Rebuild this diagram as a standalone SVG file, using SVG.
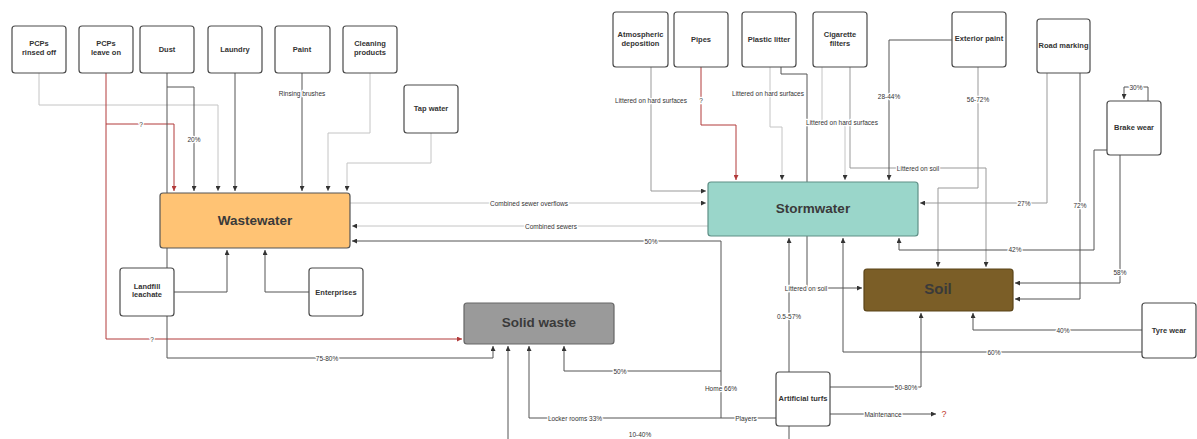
<svg xmlns="http://www.w3.org/2000/svg" width="1197" height="439" viewBox="0 0 1197 439">
<defs>
<marker id="a" viewBox="0 0 6 6" refX="6" refY="3" markerWidth="5" markerHeight="5" markerUnits="userSpaceOnUse" orient="auto"><path d="M0,0 L6,3 L0,6 z" fill="#333"/></marker>
<marker id="ar" viewBox="0 0 6 6" refX="6" refY="3" markerWidth="5" markerHeight="5" markerUnits="userSpaceOnUse" orient="auto"><path d="M0,0 L6,3 L0,6 z" fill="#b23a3a"/></marker>
<style>
.n rect{fill:#fff;stroke:#4a4a4a;stroke-width:1.2}
.t{font-family:"Liberation Sans",Arial,sans-serif;font-size:7.5px;font-weight:bold;fill:#333;text-anchor:middle;dominant-baseline:central}
.big{font-family:"Liberation Sans",Arial,sans-serif;font-size:13.5px;font-weight:bold;fill:#3a3a3a;text-anchor:middle;dominant-baseline:central}
.e{font-family:"Liberation Sans",Arial,sans-serif;font-size:6.5px;fill:#333;text-anchor:middle;dominant-baseline:central;paint-order:stroke;stroke:#fff;stroke-width:2.5px;stroke-linejoin:round}
.d{fill:none;stroke:#555;stroke-width:1;marker-end:url(#a)}
.l{fill:none;stroke:#c4c4c4;stroke-width:1;marker-end:url(#a)}
.m{fill:none;stroke:#999;stroke-width:1;marker-end:url(#a)}
.r{fill:none;stroke:#b23a3a;stroke-width:1;marker-end:url(#ar)}
.nm{marker-end:none}
</style>
</defs>
<rect width="1197" height="439" fill="#fff"/>
<g id="connectors">
<path class="l" d="M39,73 V105 H218 V191"/>
<path class="r" d="M106,73 V339 H462"/>
<path class="r" d="M106,124 H174 V191"/>
<path class="d nm" d="M167,73 V268"/>
<path class="d" d="M167,87 H194 V191"/>
<path class="d" d="M235,73 V191"/>
<path class="d" d="M302,73 V191"/>
<path class="l" d="M370,73 V133 H328 V191"/>
<path class="l" d="M431,133 V163 H347 V191"/>
<path class="d" d="M174,292 H227 V250"/>
<path class="d" d="M309,292 H265 V250"/>
<path class="d" d="M167,316 V358 H493 V346"/>
<path class="l" d="M350,203 H706"/>
<path class="l" d="M708,226 H352"/>
<path class="d" d="M721,418 V241 H352"/>
<path class="d" d="M721,371 H564 V346"/>
<path class="d" d="M776,418 H529 V346"/>
<path class="d" d="M789,426 V446 H508 V346"/>
<path class="d" d="M789,372 V238"/>
<path class="d" d="M830,387 H921 V313"/>
<path class="d" d="M830,414 H936"/>
<path class="m" d="M651,67 V191 H706"/>
<path class="r" d="M701,67 V125 H736 V180"/>
<path class="l" d="M770,67 V127 H782 V180"/>
<path class="d" d="M781,67 V74 H807 V288 H862"/>
<path class="l" d="M822,67 V122 H845 V180"/>
<path class="m" d="M850,67 V168 H986 V267"/>
<path class="d" d="M952,40 H889 V180"/>
<path class="m" d="M978,67 V188 H938 V267"/>
<path class="m" d="M1047,73 V203 H920"/>
<path class="d" d="M1080,73 V299 H1015"/>
<path class="d" d="M1148,101 V87 H1124 V99"/>
<path class="d" d="M1107,150 H1094 V250 H899 V238"/>
<path class="d" d="M1120,155 V283 H1015"/>
<path class="d" d="M1142,330 H973 V313"/>
<path class="d" d="M1142,352 H843 V238"/>
<text class="e" x="141" y="124">?</text>
<text class="e" x="152" y="339">?</text>
<text class="e" x="194" y="139">20%</text>
<text class="e" x="302" y="93">Rinsing brushes</text>
<text class="e" x="327" y="358">75-80%</text>
<text class="e" x="529" y="203">Combined sewer overflows</text>
<text class="e" x="551" y="226">Combined sewers</text>
<text class="e" x="651" y="241">50%</text>
<text class="e" x="620" y="371">50%</text>
<text class="e" x="721" y="388">Home 66%</text>
<text class="e" x="575" y="418">Locker rooms 33%</text>
<text class="e" x="746" y="418">Players</text>
<text class="e" x="640" y="434">10-40%</text>
<text class="e" x="789" y="316">0.5-57%</text>
<text class="e" x="906" y="387">50-80%</text>
<text class="e" x="883" y="414">Maintenance</text>
<text x="944" y="414" font-family="Liberation Sans,Arial,sans-serif" font-size="9" fill="#c0392b" text-anchor="middle" dominant-baseline="central">?</text>
<text class="e" x="651" y="100">Littered on hard surfaces</text>
<text class="e" x="701" y="100">?</text>
<text class="e" x="768" y="93">Littered on hard surfaces</text>
<text class="e" x="842" y="122">Littered on hard surfaces</text>
<text class="e" x="918" y="168">Littered on soil</text>
<text class="e" x="806" y="288">Littered on soil</text>
<text class="e" x="889" y="96">28-44%</text>
<text class="e" x="978" y="99">56-72%</text>
<text class="e" x="1024" y="203">27%</text>
<text class="e" x="1080" y="205">72%</text>
<text class="e" x="1136" y="87">30%</text>
<text class="e" x="1015" y="249">42%</text>
<text class="e" x="1120" y="272">58%</text>
<text class="e" x="1063" y="330">40%</text>
<text class="e" x="994" y="352">60%</text>
</g>
<g id="pcps-rinsed" class="n"><rect x="12" y="26" width="54" height="47" rx="3"/><text class="t" x="39" y="43">PCPs</text><text class="t" x="39" y="52">rinsed off</text></g>
<g id="pcps-leave" class="n"><rect x="79" y="26" width="54" height="47" rx="3"/><text class="t" x="106" y="43">PCPs</text><text class="t" x="106" y="52">leave on</text></g>
<g id="dust" class="n"><rect x="140" y="26" width="54" height="47" rx="3"/><text class="t" x="167" y="49">Dust</text></g>
<g id="laundry" class="n"><rect x="208" y="26" width="54" height="47" rx="3"/><text class="t" x="235" y="49">Laundry</text></g>
<g id="paint" class="n"><rect x="275" y="26" width="55" height="47" rx="3"/><text class="t" x="302" y="49">Paint</text></g>
<g id="cleaning" class="n"><rect x="343" y="26" width="54" height="47" rx="3"/><text class="t" x="370" y="43">Cleaning</text><text class="t" x="370" y="52">products</text></g>
<g id="tap-water" class="n"><rect x="404" y="85" width="54" height="48" rx="3"/><text class="t" x="431" y="108">Tap water</text></g>
<g id="landfill" class="n"><rect x="120" y="268" width="54" height="48" rx="3"/><text class="t" x="147" y="286">Landfill</text><text class="t" x="147" y="294.5">leachate</text></g>
<g id="enterprises" class="n"><rect x="309" y="268" width="54" height="48" rx="3"/><text class="t" x="336" y="292">Enterprises</text></g>
<g id="wastewater"><rect x="160" y="193" width="190" height="55" rx="3" fill="#ffc374" stroke="#555" stroke-width="1.2"/><text class="big" x="255" y="220">Wastewater</text></g>
<g id="solid-waste"><rect x="464" y="303" width="150" height="41" rx="3" fill="#9a9a9a" stroke="#666" stroke-width="1.2"/><text class="big" x="539" y="322">Solid waste</text></g>
<g id="stormwater"><rect x="708" y="182" width="210" height="54" rx="3" fill="#9ad6ca" stroke="#5f8f86" stroke-width="1.2"/><text class="big" x="813" y="208">Stormwater</text></g>
<g id="soil"><rect x="864" y="269" width="149" height="42" rx="3" fill="#7b5e27" stroke="#5a4418" stroke-width="1.2"/><text class="big" x="938" y="288" fill="#3a3222" style="font-size:15px">Soil</text></g>
<g id="atmospheric" class="n"><rect x="613" y="12" width="55" height="55" rx="3"/><text class="t" x="640.5" y="34">Atmospheric</text><text class="t" x="640.5" y="43">deposition</text></g>
<g id="pipes" class="n"><rect x="674" y="12" width="54" height="55" rx="3"/><text class="t" x="701" y="39">Pipes</text></g>
<g id="plastic-litter" class="n"><rect x="742" y="12" width="54" height="55" rx="3"/><text class="t" x="769" y="39">Plastic litter</text></g>
<g id="cigarette" class="n"><rect x="813" y="12" width="54" height="55" rx="3"/><text class="t" x="840" y="34">Cigarette</text><text class="t" x="840" y="43">filters</text></g>
<g id="exterior-paint" class="n"><rect x="952" y="12" width="54" height="55" rx="3"/><text class="t" x="979" y="38.5">Exterior paint</text></g>
<g id="road-marking" class="n"><rect x="1037" y="19" width="53" height="54" rx="3"/><text class="t" x="1063.5" y="45">Road marking</text></g>
<g id="brake-wear" class="n"><rect x="1107" y="101" width="54" height="54" rx="3"/><text class="t" x="1134" y="127">Brake wear</text></g>
<g id="tyre-wear" class="n"><rect x="1142" y="303" width="54" height="55" rx="3"/><text class="t" x="1169" y="330">Tyre wear</text></g>
<g id="artificial-turfs" class="n"><rect x="776" y="372" width="54" height="54" rx="3"/><text class="t" x="803" y="398">Artificial turfs</text></g>
</svg>
